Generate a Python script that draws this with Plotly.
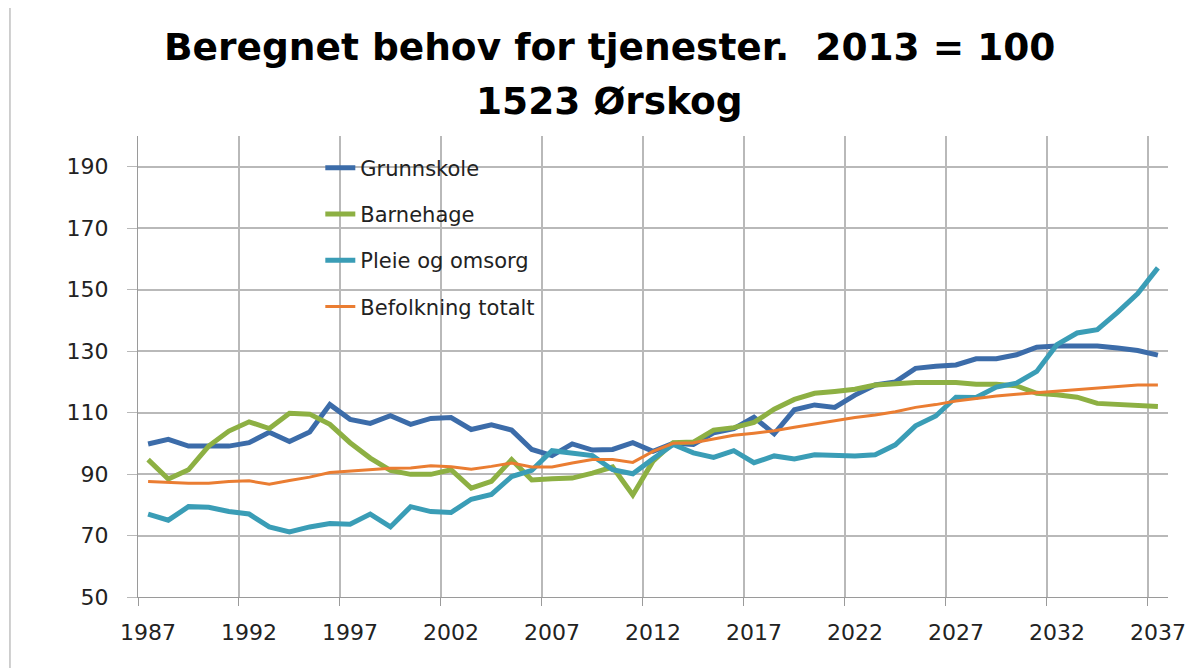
import plotly.graph_objects as go

years = list(range(1987, 2038))

grunnskole = [99.8, 101.3, 99.1, 99.2, 99.1, 100.2, 103.6, 100.6, 103.7, 112.6, 107.8,
              106.5, 109.0, 106.2, 108.1, 108.4, 104.5, 106.0, 104.3, 98.0, 96.0,
              99.8, 97.8, 98.0, 100.2, 97.4, 100.0, 99.6, 103.4, 104.8, 108.5,
              103.1, 110.9, 112.5, 111.7, 115.7, 119.0, 120.0, 124.4, 125.1, 125.5,
              127.5, 127.5, 128.8, 131.3, 131.7, 131.7, 131.7, 131.0, 130.2, 128.7]

barnehage = [94.7, 88.4, 91.4, 99.1, 104.0, 107.0, 104.8, 109.8, 109.5, 106.2, 100.2,
             95.2, 91.2, 89.9, 89.9, 91.4, 85.4, 87.6, 94.7, 88.1, 88.5,
             88.7, 90.3, 92.3, 83.2, 94.2, 100.2, 100.4, 104.3, 105.1, 106.8,
             111.1, 114.3, 116.3, 116.9, 117.6, 119.0, 119.5, 119.8, 119.8, 119.8,
             119.2, 119.2, 118.7, 116.3, 115.8, 115.0, 113.0, 112.7, 112.7, 112.0]

pleie = [77.0, 75.0, 79.4, 79.2, 77.8, 77.0, 72.8, 71.2, 72.8, 73.9, 73.7,
         77.0, 72.8, 79.4, 77.8, 77.5, 81.8, 83.4, 89.2, 91.2, 97.6,
         96.7, 96.0, 91.4, 90.1, 95.0, 99.6, 96.9, 95.4, 97.6, 93.7,
         95.9, 94.9, 96.3, 95.9, 95.9, 96.3, 99.5, 105.7, 108.9, 115.0,
         114.9, 118.3, 119.6, 123.4, 132.1, 135.9, 137.0, 142.6, 148.7, 157.1]

befolkning = [87.6, 87.3, 87.0, 87.0, 87.6, 87.8, 86.7, 87.9, 89.0, 90.5, 91.0,
              91.4, 91.9, 92.0, 92.7, 92.4, 91.6, 92.5, 93.6, 92.3, 92.3,
              93.6, 94.7, 94.7, 93.8, 97.4, 100.0, 100.2, 101.3, 102.6, 103.3,
              104.1, 105.2, 106.3, 107.4, 108.4, 109.2, 110.3, 111.7, 112.6, 113.8,
              114.7, 115.4, 116.0, 116.5, 117.1, 117.6, 117.9, 118.5, 119.0, 119.0]

series_names = ["Grunnskole", "Barnehage", "Pleie og omsorg", "Befolkning totalt"]
x_tick_labels = ["1987", "1992", "1997", "2002", "2007", "2012", "2017", "2022", "2027", "2032", "2037"]
y_tick_values = [50, 70, 90, 110, 130, 150, 170, 190]

colors = ["#3C6CA9", "#8DB043", "#3A9DB6", "#EA7D32"]
widths = [5, 5, 5, 3]

fig = go.Figure()
for i, (name, vals) in enumerate(zip(series_names, [grunnskole, barnehage, pleie, befolkning])):
    fig.add_trace(go.Scatter(x=years, y=vals, mode="lines", name=name,
                             legendgroup=name,
                             line=dict(color=colors[i], width=widths[i])))

FONT = "DejaVu Sans"
grid = "#B9B9B9"

fig.update_layout(
    width=1190, height=660,
    margin=dict(l=130, r=30, t=128, b=71),
    paper_bgcolor="white", plot_bgcolor="white",
    font=dict(family=FONT, color="#222222"),
    showlegend=True,
    legend=dict(x=0.177, y=0.975, xanchor="left", yanchor="top",
                font=dict(size=21, family=FONT, color="#222222"),
                bgcolor="rgba(0,0,0,0)", tracegroupgap=16, itemwidth=30),
    annotations=[
        dict(text="<b>Beregnet behov for tjenester.\u00a0 2013 = 100</b>", x=0.458, y=1.193,
             xref="paper", yref="paper", xanchor="center", yanchor="middle",
             showarrow=False, font=dict(size=37.5, family=FONT, color="black")),
        dict(text="<b>1523 Ørskog</b>", x=0.458, y=1.076,
             xref="paper", yref="paper", xanchor="center", yanchor="middle",
             showarrow=False, font=dict(size=37.5, family=FONT, color="black")),
    ],
    shapes=[dict(type="line", xref="paper", yref="paper", x0=-0.1243, x1=-0.1243,
                 y0=-0.16, y1=1.3, line=dict(color="#A0A0A0", width=1))],
)

fig.update_xaxes(
    range=[1986.5, 2037.5],
    tickmode="array", tickvals=[int(t) for t in x_tick_labels], ticktext=x_tick_labels,
    showgrid=False, ticks="", ticklabelstandoff=16,
    tickfont=dict(size=22, family=FONT, color="#222222"),
    showline=True, linecolor="#9A9A9A", linewidth=1,
    minor=dict(tickmode="array", tickvals=[1986.5 + 5 * k for k in range(11)],
               showgrid=True, gridcolor=grid, gridwidth=1.5,
               ticks="outside", ticklen=8, tickcolor="#9A9A9A"),
    zeroline=False,
)
fig.update_yaxes(
    range=[50, 200],
    tickmode="array", tickvals=y_tick_values,
    showgrid=True, gridcolor=grid, gridwidth=1.5,
    ticks="outside", ticklen=10, tickcolor=grid, ticklabelstandoff=14,
    tickfont=dict(size=22, family=FONT, color="#222222"),
    showline=True, linecolor="#9A9A9A", linewidth=1,
    zeroline=False,
)

fig.write_html("out.html")
